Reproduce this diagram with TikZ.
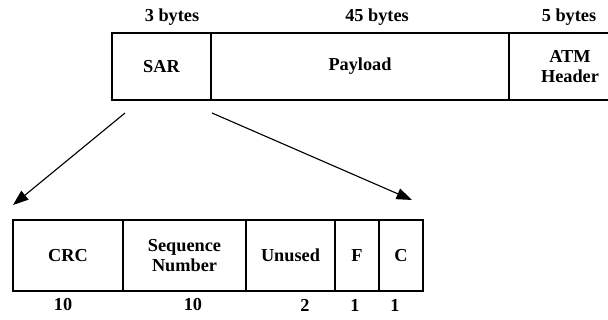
\documentclass[tikz,border=0pt]{standalone}
\usepackage{fontspec}
\setmainfont{Liberation Serif}
\usetikzlibrary{arrows.meta}
\def\cellheight{1.675cm}
\def\fieldheight{1.775cm}
\def\labelfont{\fontsize{13}{14.5}\selectfont\bfseries}

\begin{document}
\begin{tikzpicture}[x=0.025cm, y=-0.025cm,
    cell/.style={draw, line width=0.8pt, shape=rectangle, inner sep=0pt, minimum height=\cellheight, font=\labelfont, align=center},
    field/.style={draw, line width=0.8pt, shape=rectangle, inner sep=0pt, minimum height=\fieldheight, font=\labelfont, align=center},
    size/.style={inner sep=0pt, font=\labelfont},
    expand/.style={line width=0.8pt, -{Triangle[length=11pt, width=8pt]}}]
    \useasboundingbox (0, 0) rectangle (608, 320);
    \clip (0, 0) rectangle (608, 320);
    % ATM cell
    \node[cell, minimum width=2.475cm] (SAR) at (161.5, 66.5) {SAR};
    \node[cell, minimum width=7.45cm] (Payload) at (360, 66.5) {Payload};
    \node[cell, minimum width=3.05cm] (Header) at (570, 66.5) {ATM\\Header};
    \node[size] (sarSize) at (172, 17) {3 bytes};
    \node[size] (payloadSize) at (377, 17) {45 bytes};
    \node[size] (headerSize) at (569, 17) {5 bytes};
    % SAR fields
    \node[field, minimum width=2.75cm] (CRC) at (68, 255.5) {CRC};
    \node[field, minimum width=3.075cm] (Seq) at (184.5, 255.5) {\raisebox{-4pt}{\shortstack{Sequence\\[-1pt]Number}}};
    \node[field, minimum width=2.225cm] (Unused) at (290.5, 255.5) {\raisebox{-3pt}{Unused}};
    \node[field, minimum width=1.1cm] (F) at (357, 255.5) {F};
    \node[field, minimum width=1.1cm] (C) at (401, 255.5) {C};
    \node[size] (crcBits) at (63, 305) {10};
    \node[size] (seqBits) at (193, 305) {10};
    \node[size] (unusedBits) at (305, 305) {2};
    \node[size] (fBits) at (355, 305) {1};
    \node[size] (cBits) at (395, 305) {1};
    % expansion arrows
    \coordinate (sarL) at (125, 113);
    \coordinate (sarR) at (212, 113);
    \coordinate (crcTip) at (13, 205);
    \coordinate (cTip) at (412, 200);
    \draw[expand] (sarL) -- (crcTip);
    \draw[expand] (sarR) -- (cTip);
\end{tikzpicture}
\end{document}
